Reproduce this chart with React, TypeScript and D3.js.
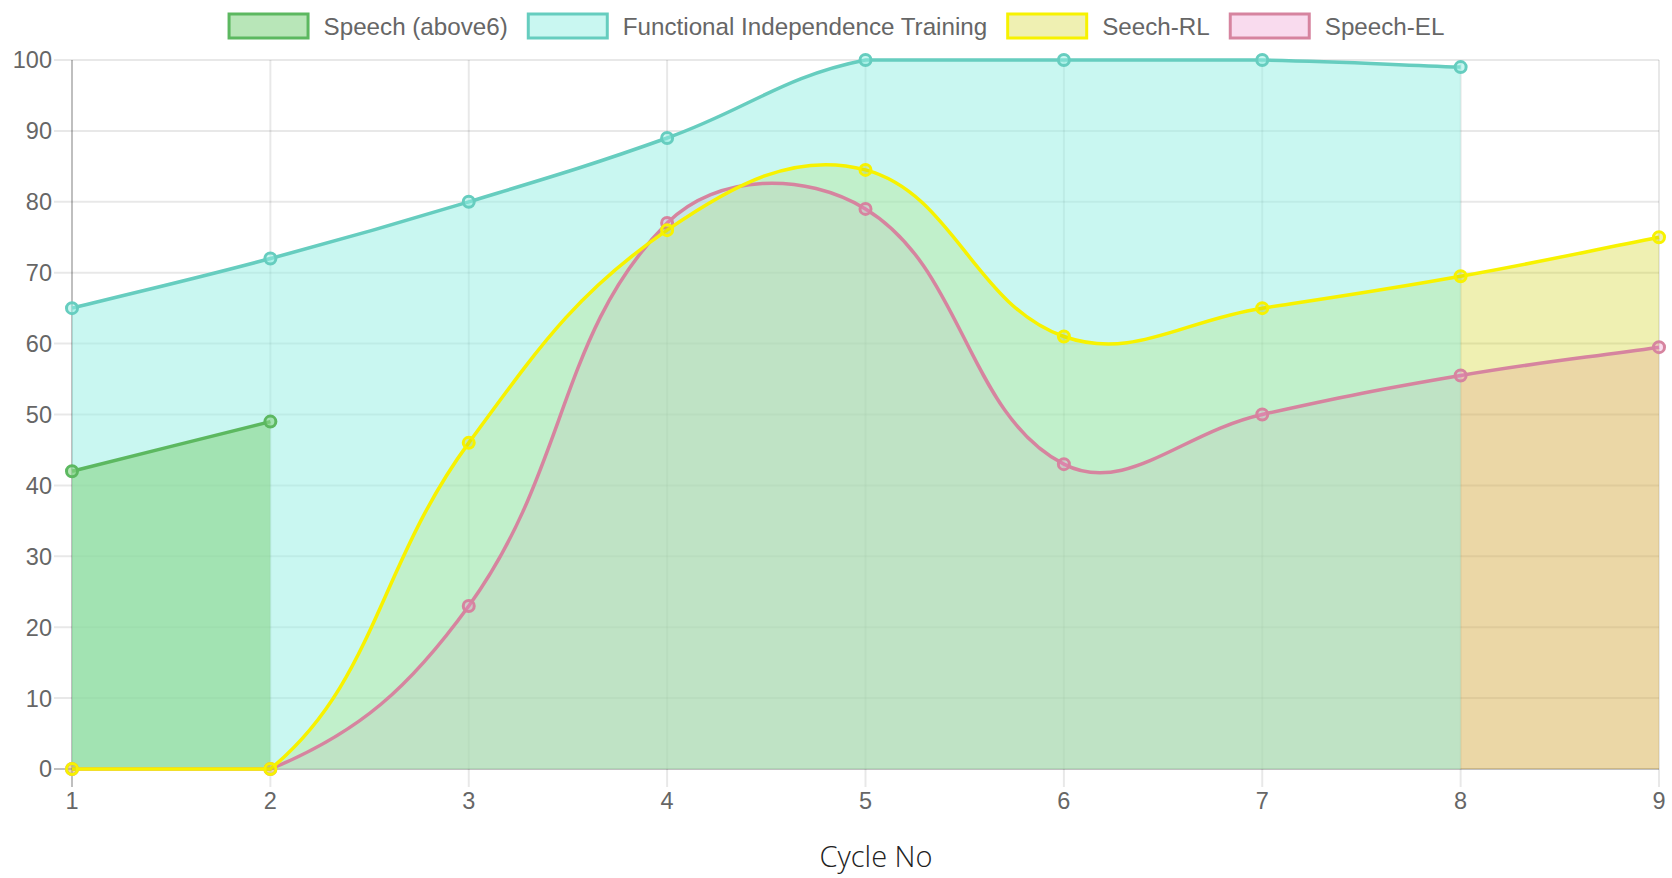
import { useEffect, useRef } from 'react'
import * as d3 from 'd3'

const cycles = ['1', '2', '3', '4', '5', '6', '7', '8', '9']
const speechAbove6 = [42, 49]
const functionalTraining = [65, 72, 80, 89, 100, 100, 100, 99]
const speechRL = [0, 0, 46, 76, 84.5, 61, 65, 69.5, 75]
const speechEL = [0, 0, 23, 77, 79, 43, 50, 55.5, 59.5]
const yTicks = [0, 10, 20, 30, 40, 50, 60, 70, 80, 90, 100]

interface Series {
  name: string
  values: number[]
  line: string
  fill: string
}

const seriesList: Series[] = [
  { name: 'Speech (above6)', values: speechAbove6, line: '#5cb860', fill: 'rgba(137,213,137,0.6)' },
  { name: 'Functional Independence Training', values: functionalTraining, line: '#66cdbf', fill: 'rgba(147,239,227,0.5)' },
  { name: 'Seech-RL', values: speechRL, line: '#f7f200', fill: 'rgba(202,205,0,0.3)' },
  { name: 'Speech-EL', values: speechEL, line: '#d6849f', fill: 'rgba(235,137,200,0.3)' },
]

type Pt = [number, number]
interface Area { left: number; right: number; top: number; bottom: number }

// chart.js style spline (tension 0.4, control points capped to the chart area)
function splineCurve(path: d3.Path, pts: Pt[], t: number, a: Area) {
  const n = pts.length
  const cx = (v: number) => Math.max(a.left, Math.min(a.right, v))
  const cy = (v: number) => Math.max(a.top, Math.min(a.bottom, v))
  const cps = pts.map((p, i) => {
    const prev = pts[Math.max(0, i - 1)]
    const next = pts[Math.min(n - 1, i + 1)]
    const d01 = Math.hypot(p[0] - prev[0], p[1] - prev[1])
    const d12 = Math.hypot(next[0] - p[0], next[1] - p[1])
    let s01 = d01 / (d01 + d12)
    let s12 = d12 / (d01 + d12)
    if (isNaN(s01)) s01 = 0
    if (isNaN(s12)) s12 = 0
    const fa = t * s01
    const fb = t * s12
    return {
      prev: [cx(p[0] - fa * (next[0] - prev[0])), cy(p[1] - fa * (next[1] - prev[1]))] as Pt,
      next: [cx(p[0] + fb * (next[0] - prev[0])), cy(p[1] + fb * (next[1] - prev[1]))] as Pt,
    }
  })
  path.moveTo(pts[0][0], pts[0][1])
  for (let i = 1; i < n; i++) {
    path.bezierCurveTo(cps[i - 1].next[0], cps[i - 1].next[1], cps[i].prev[0], cps[i].prev[1], pts[i][0], pts[i][1])
  }
}

export default function App() {
  const svgRef = useRef<SVGSVGElement>(null)

  useEffect(() => {
    if (!svgRef.current) return
    const width = 1672
    const height = 878
    const area: Area = { left: 72, right: 1659, top: 60, bottom: 769 }

    const svg = d3.select(svgRef.current)
    svg.selectAll('*').remove()
    svg.attr('width', width).attr('height', height)

    const x = d3.scalePoint().domain(cycles).range([area.left, area.right])
    const y = d3.scaleLinear().domain([0, 100]).range([area.bottom, area.top])
    const tickLen = 18
    const font = "'Helvetica Neue', Helvetica, Arial, 'Liberation Sans', sans-serif"

    // grid
    const grid = svg.append('g')
    yTicks.forEach((v, i) => {
      grid.append('line')
        .attr('x1', area.left - tickLen).attr('x2', area.right)
        .attr('y1', y(v)).attr('y2', y(v))
        .attr('stroke', i === 0 ? 'rgba(0,0,0,0.25)' : 'rgba(0,0,0,0.09)')
        .attr('stroke-width', 2)
    })
    cycles.forEach((c, i) => {
      grid.append('line')
        .attr('x1', x(c)!).attr('x2', x(c)!)
        .attr('y1', area.top).attr('y2', area.bottom + tickLen)
        .attr('stroke', i === 0 ? 'rgba(0,0,0,0.25)' : 'rgba(0,0,0,0.09)')
        .attr('stroke-width', 2)
    })

    // tick labels
    svg.append('g').selectAll('text').data(yTicks).join('text')
      .attr('x', area.left - tickLen - 2).attr('y', d => y(d))
      .attr('dy', '0.36em')
      .attr('text-anchor', 'end')
      .attr('font-family', font).attr('font-size', 23.5).attr('fill', '#666')
      .text(d => d)
    svg.append('g').selectAll('text').data(cycles).join('text')
      .attr('x', d => x(d)!).attr('y', area.bottom + tickLen + 14)
      .attr('dy', '0.36em')
      .attr('text-anchor', 'middle')
      .attr('font-family', font).attr('font-size', 23.5).attr('fill', '#666')
      .text(d => d)

    // axis title
    svg.append('text')
      .attr('x', 876).attr('y', 867)
      .attr('text-anchor', 'middle')
      .attr('font-family', "'Open Sans', sans-serif").attr('font-weight', 300)
      .attr('font-size', 29).attr('fill', '#222')
      .text('Cycle No')

    const toPts = (s: Series): Pt[] => s.values.map((v, i) => [x(cycles[i])!, y(v)])

    // fills: last dataset first
    const fills = svg.append('g')
    for (let k = seriesList.length - 1; k >= 0; k--) {
      const s = seriesList[k]
      const pts = toPts(s)
      const p = d3.path()
      splineCurve(p, pts, 0.4, area)
      p.lineTo(pts[pts.length - 1][0], y(0))
      p.lineTo(pts[0][0], y(0))
      p.closePath()
      fills.append('path').attr('d', p.toString()).attr('fill', s.fill)
    }

    // lines and points: last dataset first
    const lines = svg.append('g')
    for (let k = seriesList.length - 1; k >= 0; k--) {
      const s = seriesList[k]
      const pts = toPts(s)
      const p = d3.path()
      splineCurve(p, pts, 0.4, area)
      lines.append('path').attr('d', p.toString())
        .attr('fill', 'none').attr('stroke', s.line).attr('stroke-width', 3.5)
      lines.append('g').selectAll('circle').data(pts).join('circle')
        .attr('cx', d => d[0]).attr('cy', d => d[1]).attr('r', 5.5)
        .attr('fill', s.fill).attr('stroke', s.line).attr('stroke-width', 3)
    }

    // legend, centred on the page
    const legend = svg.append('g')
    const boxW = 82
    const boxH = 25
    const gapText = 14
    const gapItem = 19
    const items = seriesList.map(s => {
      const g = legend.append('g')
      g.append('rect').attr('x', 1.5).attr('y', 14).attr('width', boxW - 3).attr('height', boxH - 1)
        .attr('fill', s.fill).attr('stroke', s.line).attr('stroke-width', 3)
      const t = g.append('text').attr('x', boxW + gapText).attr('y', 26).attr('dy', '0.36em')
        .attr('font-family', font).attr('font-size', 24.2).attr('fill', '#666').text(s.name)
      const w = boxW + gapText + (t.node() as SVGTextElement).getComputedTextLength()
      return { g, w }
    })
    const total = d3.sum(items, d => d.w) + gapItem * (items.length - 1)
    let cursor = width / 2 - total / 2
    items.forEach(it => {
      it.g.attr('transform', `translate(${cursor},0)`)
      cursor += it.w + gapItem
    })
  }, [])

  return (
    <div style={{ position: 'absolute', left: 0, top: 0, width: 1672, height: 878, background: '#fff' }}>
      <svg ref={svgRef} style={{ display: 'block' }} />
    </div>
  )
}
